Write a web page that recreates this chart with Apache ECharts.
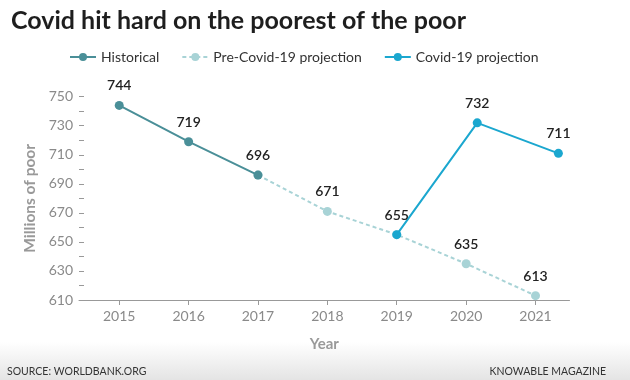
<!DOCTYPE html>
<html>
<head>
<meta charset="utf-8">
<script src="https://cdn.jsdelivr.net/npm/echarts@6/dist/echarts.min.js"></script>
<style>html,body{margin:0;padding:0;background:#fff}#c{width:630px;height:380px}</style>
</head>
<body>
<div id="c"></div>
<script>
const years = [2015, 2016, 2017, 2018, 2019, 2020, 2021];
const historicalYears = [2015, 2016, 2017];
const historicalValues = [744, 719, 696];
const preCovidYears = [2017, 2018, 2019, 2020, 2021];
const preCovidValues = [696, 671, 655, 635, 613];
const covidYears = [2019, 2020.16, 2021.33];
const covidValues = [655, 732, 711];
const yTicks = [610, 630, 650, 670, 690, 710, 730, 750];

const FONT = 'Lato, "Open Sans", sans-serif';
const C_HIST = '#4a8f98';
const C_PRE = '#a8d3d6';
const C_COVID = '#1ba7cf';

function pairs(xs, ys) { return xs.map((x, i) => [x, ys[i]]); }

const labelStyle = {
  show: true, position: 'top', distance: 8,
  color: '#222', fontSize: 14, fontWeight: 600, fontFamily: FONT
};

const chart = echarts.init(document.getElementById('c'), null, {renderer: 'canvas'});
chart.setOption({
  animation: false,
  textStyle: {fontFamily: FONT},
  title: {
    text: 'Covid hit hard on the poorest of the poor',
    left: 6, top: 3,
    textStyle: {fontSize: 25, fontWeight: 'bold', color: '#1e1e1e', fontFamily: FONT}
  },
  legend: {
    left: 64, top: 45,
    itemWidth: 26, itemHeight: 10, itemGap: 22,
    textStyle: {fontSize: 14, color: '#333', fontFamily: FONT},
    data: ['Historical', 'Pre-Covid-19 projection', 'Covid-19 projection']
  },
  grid: {left: 79, right: 60.5, top: 96.7, bottom: 80, containLabel: false},
  xAxis: {
    type: 'value', min: 2014.42, max: 2021.49,
    name: 'Year', nameLocation: 'middle', nameGap: 37,
    nameTextStyle: {fontSize: 15, fontWeight: 'bold', color: '#999', fontFamily: FONT},
    axisLine: {show: true, lineStyle: {color: '#999', width: 1}},
    axisTick: {show: true, length: 5, lineStyle: {color: '#999'}, customValues: years},
    axisLabel: {color: '#8a8a8a', fontSize: 14, margin: 9, customValues: years,
      formatter: v => String(v), fontFamily: FONT},
    splitLine: {show: false}
  },
  yAxis: {
    type: 'value', min: 610, max: 750, interval: 10,
    name: 'Millions of poor', nameLocation: 'middle', nameGap: 40,
    nameTextStyle: {fontSize: 15.5, fontWeight: 'bold', color: '#999', fontFamily: FONT},
    axisLine: {show: false},
    axisTick: {show: true, inside: true, length: 5, lineStyle: {color: '#999'}},
    axisLabel: {color: '#8a8a8a', fontSize: 14, margin: 6, fontFamily: FONT,
      formatter: v => (yTicks.indexOf(v) >= 0 ? String(v) : '')},
    splitLine: {show: false}
  },
  graphic: [
    {type: 'rect', left: 0, top: 342, z: -10, silent: true,
      shape: {width: 630, height: 38},
      style: {fill: new echarts.graphic.LinearGradient(0, 0, 0, 1, [
        {offset: 0, color: '#ffffff'}, {offset: 1, color: '#e4e4e4'}])}},
    {type: 'text', left: 7, top: 366, silent: true,
      style: {text: 'SOURCE: WORLDBANK.ORG', fill: '#333', fontSize: 10.5, fontFamily: FONT}},
    {type: 'text', right: 24, top: 366, silent: true,
      style: {text: 'KNOWABLE MAGAZINE', fill: '#333', fontSize: 10.5, fontFamily: FONT}}
  ],
  series: [
    {
      name: 'Pre-Covid-19 projection', type: 'line', z: 2,
      data: pairs(preCovidYears, preCovidValues).map((p, i) => ({
        value: p, label: (i === 0 || i === 2) ? {show: false} : undefined
      })),
      symbol: 'circle', symbolSize: 9,
      lineStyle: {color: C_PRE, width: 2, type: [4, 3]},
      itemStyle: {color: C_PRE},
      label: labelStyle
    },
    {
      name: 'Historical', type: 'line', z: 3,
      data: pairs(historicalYears, historicalValues),
      symbol: 'circle', symbolSize: 9,
      lineStyle: {color: C_HIST, width: 2},
      itemStyle: {color: C_HIST},
      label: labelStyle
    },
    {
      name: 'Covid-19 projection', type: 'line', z: 4,
      data: pairs(covidYears, covidValues),
      symbol: 'circle', symbolSize: 9,
      lineStyle: {color: C_COVID, width: 2},
      itemStyle: {color: C_COVID},
      label: labelStyle
    }
  ]
});
</script>
</body>
</html>
